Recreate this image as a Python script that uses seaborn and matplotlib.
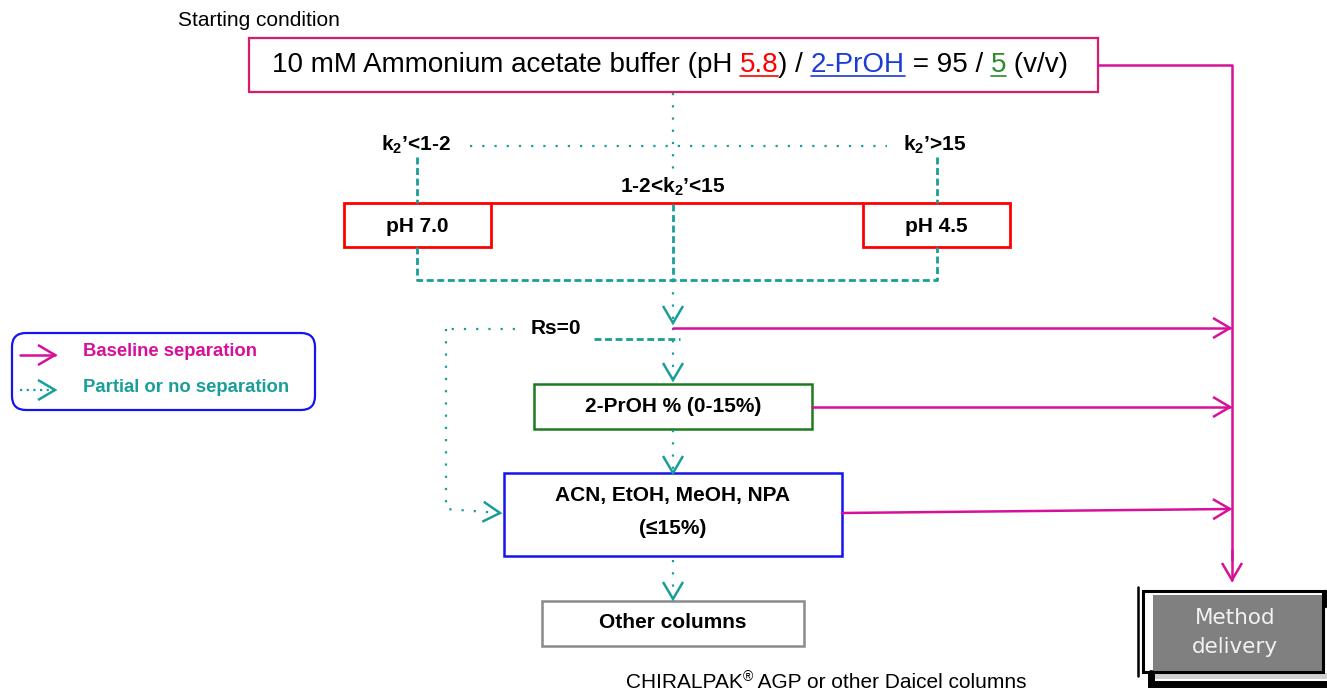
import matplotlib
matplotlib.use("Agg")
import matplotlib.pyplot as plt
import seaborn as sns
from matplotlib.patches import Rectangle, FancyBboxPatch

# --- texts of the flow chart ---
start_label = "Starting condition"
start_parts = ["10 mM Ammonium acetate buffer (pH ", "5.8", ") / ", "2-PrOH",
               " = 95 / ", "5", " (v/v)"]
start_part_colors = ["black", "#ff0000", "black", "#1a3bd6", "black", "#2e8b2e", "black"]
start_part_underline = [False, True, False, True, False, True, False]
k2_labels = [r"$\mathbf{k_2}$’<1-2", r"1-2<$\mathbf{k_2}$’<15", r"$\mathbf{k_2}$’>15"]
ph_labels = ["pH 7.0", "pH 4.5"]
rs_label = "Rs=0"
step_labels = ["2-PrOH % (0-15%)", "ACN, EtOH, MeOH, NPA", "(≤15%)", "Other columns"]
legend_labels = ["Baseline separation", "Partial or no separation"]
delivery_lines = ["Method", "delivery"]
footer_parts = ["CHIRALPAK", "®", " AGP or other Daicel columns"]

MAGENTA = "#d6109a"
PINK = "#d81b6a"
TEAL = "#1a9e9a"
RED = "#ff0000"
GREEN = "#1f7a1f"
BLUE = "#1414f0"
GRAY = "#8a8a8a"
DOT = (0, (1, 4.5))
DASH = (0, (2.5, 1.3))

sns.set_theme(style="white")
plt.rcParams["font.family"] = ["Liberation Sans", "DejaVu Sans"]
plt.rcParams["text.color"] = "black"
plt.rcParams["mathtext.fontset"] = "custom"
plt.rcParams["mathtext.rm"] = "Liberation Sans"
plt.rcParams["mathtext.bf"] = "Liberation Sans:bold"

fig = plt.figure(figsize=(13.27, 6.92), dpi=100)
ax = fig.add_axes([0, 0, 1, 1])
ax.set_xlim(0, 1327)
ax.set_ylim(692, 0)
ax.axis("off")
renderer = fig.canvas.get_renderer()


def line(xs, ys, color=TEAL, ls="-", lw=1.6):
    if ls == "-":
        sns.lineplot(x=xs, y=ys, sort=False, estimator=None, color=color,
                     lw=lw, ax=ax, legend=False)
    else:
        ax.plot(xs, ys, color=color, ls=ls, lw=lw)


def head(tip, frm, color, length=17, half=10, lw=1.8):
    tx, ty = tip
    dx, dy = tx - frm[0], ty - frm[1]
    n = (dx ** 2 + dy ** 2) ** 0.5
    dx, dy = dx / n, dy / n
    bx, by = tx - length * dx, ty - length * dy
    ax.plot([bx - half * dy, tx, bx + half * dy], [by + half * dx, ty, by - half * dx],
            color=color, lw=lw, solid_joinstyle="miter", solid_capstyle="butt")


def arrow(xs, ys, color=TEAL, ls=DOT, lw=1.6):
    line(xs, ys, color, ls, lw)
    head((xs[-1], ys[-1]), (xs[-2], ys[-2]), color)


def box(x, y, w, h, color, lw=1.6):
    ax.add_patch(Rectangle((x, y), w, h, fill=False, ec=color, lw=lw))


def width(s, **kw):
    t = ax.text(0, 0, s + "|", **kw)
    w1 = t.get_window_extent(renderer).width
    t.remove()
    t = ax.text(0, 0, "|", **kw)
    w2 = t.get_window_extent(renderer).width
    t.remove()
    return w1 - w2


# starting condition
ax.text(178, 20, start_label, fontsize=15, va="center", ha="left")
box(249, 38, 849, 54, PINK)
kw = dict(fontsize=20)
ws = [width(s, **kw) for s in start_parts]
x = 670 - sum(ws) / 2
for s, c, u, w in zip(start_parts, start_part_colors, start_part_underline, ws):
    ax.text(x, 72, s, color=c, ha="left", va="baseline", **kw)
    if u:
        ax.plot([x, x + w], [76, 76], color=c, lw=1.2)
    x += w

# k2 branches
arrow_kw = dict(fontsize=15, fontweight="bold", va="center", ha="center")
ax.text(416, 145, k2_labels[0], **arrow_kw)
ax.text(673, 187, k2_labels[1], **arrow_kw)
ax.text(935, 145, k2_labels[2], **arrow_kw)
line([673, 673], [93, 172], ls=DOT)
line([470, 887], [146, 146], ls=DOT)
line([417, 417], [157, 203], ls=DASH, lw=2)
line([937, 937], [157, 203], ls=DASH, lw=2)

box(344, 203, 147, 44, RED, lw=2)
box(863, 203, 147, 44, RED, lw=2)
line([491, 863], [203, 203], color=RED, lw=2)
ax.text(417, 226, ph_labels[0], **arrow_kw)
ax.text(936, 226, ph_labels[1], **arrow_kw)

line([673, 673], [204, 280], ls=DASH, lw=2)
line([417, 417, 937, 937], [247, 280, 280, 247], ls=DASH, lw=2)
arrow([673, 673], [280, 323])

# Rs = 0 loop
ax.text(556, 329, rs_label, **arrow_kw)
line([515, 446], [329, 329], ls=DOT)
arrow([446, 446, 500], [329, 509, 513])
line([594, 680], [339, 339], ls=DASH, lw=2)

# optimisation steps
arrow([673, 673], [328, 380])
box(534, 384, 278, 45, GREEN, lw=1.8)
ax.text(673, 406, step_labels[0], **arrow_kw)
arrow([673, 673], [430, 473])
box(504, 473, 338, 83, BLUE, lw=1.8)
ax.text(673, 496, step_labels[1], **arrow_kw)
ax.text(673, 528, step_labels[2], **arrow_kw)
arrow([673, 673], [560, 599])
box(542, 601, 262, 45, GRAY, lw=1.8)
ax.text(673, 623, step_labels[3], **arrow_kw)

# baseline separation -> method delivery
line([1098, 1232, 1232], [65, 65, 560], color=MAGENTA, lw=1.8)
arrow([1232, 1232], [550, 580], color=MAGENTA, ls="-", lw=1.8)
arrow([673, 1230], [328, 328], color=MAGENTA, ls="-", lw=1.8)
arrow([812, 1230], [407, 407], color=MAGENTA, ls="-", lw=1.8)
arrow([842, 1230], [513, 509], color=MAGENTA, ls="-", lw=1.8)

# method delivery box
ax.add_patch(Rectangle((1155, 673), 172, 6, fc="#d0d0d0", ec="none"))
ax.add_patch(Rectangle((1153, 595), 170, 77, fc="#808080", ec="none"))
ax.add_patch(Rectangle((1143, 591), 180, 81, fill=False, ec="black", lw=2.2))
ax.plot([1138, 1138], [587, 676], color="black", lw=1.8)
ax.plot([1151, 1151, 1327], [673, 684, 684], color="black", lw=5,
        solid_joinstyle="miter")
ax.plot([1325, 1325], [591, 606], color="black", lw=2.5)
for txt, yy in zip(delivery_lines, [618, 647]):
    ax.text(1235, yy, txt, color="#f2f2f2", fontsize=15.5, family="DejaVu Sans",
            ha="center", va="center")

# footer
fkw = [dict(fontsize=15), dict(fontsize=10), dict(fontsize=15)]
fdy = [0, -7, 0]
fw = [width(s, **k) for s, k in zip(footer_parts, fkw)]
x = 826 - sum(fw) / 2
for s, k, d, w in zip(footer_parts, fkw, fdy, fw):
    ax.text(x, 688 + d, s, ha="left", va="baseline", **k)
    x += w

# legend
ax.add_patch(FancyBboxPatch((12, 333), 303, 77,
                            boxstyle="round,pad=0,rounding_size=14",
                            fc="white", ec=BLUE, lw=1.6))
arrow([20, 55], [355, 355], color=MAGENTA, ls="-", lw=1.8)
arrow([20, 55], [390, 390], color=TEAL, ls=(0, (1, 2)), lw=1.6)
ax.text(83, 352, legend_labels[0], color=MAGENTA, fontsize=13.3,
        fontweight="bold", va="center")
ax.text(83, 388, legend_labels[1], color=TEAL, fontsize=13.3,
        fontweight="bold", va="center")

fig.savefig("out.png", dpi=100, facecolor="white")
